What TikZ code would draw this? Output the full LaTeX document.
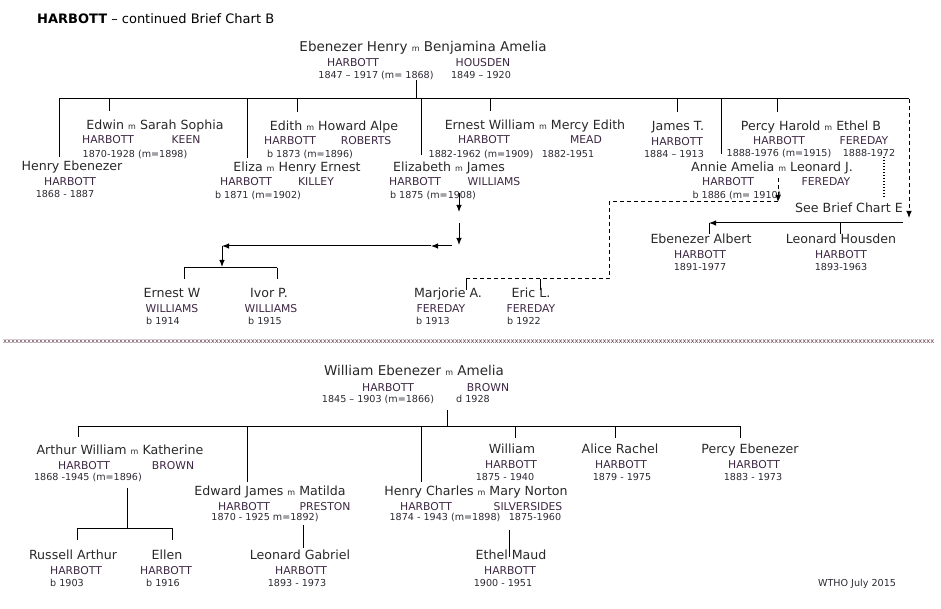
\documentclass[tikz,border=0pt]{standalone}
\usepackage{fontspec}
\setmainfont{DejaVu Sans}
\usetikzlibrary{arrows.meta}
\definecolor{namecol}{RGB}{40,40,40}
\definecolor{surcol}{RGB}{60,38,66}
\definecolor{datecol}{RGB}{45,40,50}
\definecolor{sepcol}{RGB}{95,50,70}
\newcommand{\mm}{{\fontsize{8}{9}\selectfont m}}

\begin{document}
\begin{tikzpicture}[x=1pt, y=-1pt, line join=round, >={Latex[length=7pt,width=5.5pt]},
  nm/.style={anchor=base, yshift=-4.5pt, inner xsep=0pt, inner ysep=4pt, text=namecol, font=\fontsize{12.6}{15}\selectfont},
  couplenm/.style={nm, font=\fontsize{13.5}{16}\selectfont},
  sur/.style={anchor=base, yshift=-4pt, inner sep=0pt, text=surcol, font=\fontsize{10.8}{13}\selectfont},
  yrs/.style={anchor=base, yshift=-3.5pt, inner sep=0pt, text=datecol, font=\fontsize{9.6}{12}\selectfont},
  link/.style={line width=1pt},
  dashlink/.style={link, dash pattern=on 4pt off 3pt},
  dotlink/.style={line width=1.2pt, dash pattern=on 1.2pt off 1.8pt}]
\useasboundingbox (0,0) rectangle (941,609);

\node[anchor=base west, inner sep=0pt, font=\fontsize{13}{15}\selectfont] (title) at (37,24) {\textbf{HARBOTT} – continued Brief Chart B};

% parents
\node[couplenm] (p1) at (423,47) {Ebenezer Henry \mm{} Benjamina Amelia};
\node[sur] (p1-s1) at (353,63) {HARBOTT};
\node[sur] (p1-s2) at (483,63) {HOUSDEN};
\node[couplenm] (p2) at (414,371) {William Ebenezer \mm{} Amelia};
\node[sur] (p2-s1) at (388,387) {HARBOTT};
\node[sur] (p2-s2) at (488,387) {BROWN};

% married children
\foreach \id/\x/\y/\who/\xa/\sa/\xb/\sb in {
  edwin/155/125/{Edwin \mm{} Sarah Sophia}/108/HARBOTT/186/KEEN,
  edith/334/126/{Edith \mm{} Howard Alpe}/290/HARBOTT/366/ROBERTS,
  eliza/297/167/{Eliza \mm{} Henry Ernest}/246/HARBOTT/316/KILLEY,
  elizabeth/449/167/{Elizabeth \mm{} James}/415/HARBOTT/494/WILLIAMS,
  ernest/535/125/{Ernest William \mm{} Mercy Edith}/484/HARBOTT/586/MEAD,
  percy/811/126/{Percy Harold \mm{} Ethel B}/779/HARBOTT/864/FEREDAY,
  annie/772/167/{Annie Amelia \mm{} Leonard J.}/728/HARBOTT/826/FEREDAY,
  arthur/120/450/{Arthur William \mm{} Katherine}/84/HARBOTT/173/BROWN,
  edward/270/491/{Edward James \mm{} Matilda}/244/HARBOTT/325/PRESTON,
  henryc/476/491/{Henry Charles \mm{} Mary Norton}/426/HARBOTT/528/SILVERSIDES} {
  \node[nm] (\id) at (\x,\y) {\who};
  \node[sur] (\id-s1) at (\xa,\y+15) {\sa};
  \node[sur] (\id-s2) at (\xb,\y+15) {\sb};
}

% dates of the couples
\foreach \id/\x/\y/\yr in {
  p1-d1/376/75/{1847 – 1917 (m= 1868)}, p1-d2/481/75/{1849 – 1920},
  edwin-d/135/154/{1870-1928 (m=1898)},
  edith-d/310/154/{b 1873 (m=1896)},
  eliza-d/258/195/{b 1871 (m=1902)},
  elizabeth-d/433/195/{b 1875 (m=1908)},
  ernest-d1/481/154/{1882-1962 (m=1909)}, ernest-d2/568/154/{1882-1951},
  percy-d1/779/153/{1888-1976 (m=1915)}, percy-d2/869/153/{1888-1972},
  annie-d/737/195/{b 1886 (m= 1910)},
  p2-d1/378/399/{1845 – 1903 (m=1866)}, p2-d2/473/399/{d 1928},
  arthur-d/88/477/{1868 -1945 (m=1896)},
  edward-d/265/517/{1870 - 1925 m=1892)},
  henryc-d1/445/517/{1874 - 1943 (m=1898)}, henryc-d2/535/517/{1875-1960}} {
  \node[yrs] (\id) at (\x,\y) {\yr};
}

% single persons
\foreach \id/\xa/\xb/\xc/\y/\who/\fam/\yr in {
  henry/72/70/65/166/Henry Ebenezer/HARBOTT/1868 - 1887,
  james/678/677/674/126/James T./HARBOTT/1884 – 1913,
  ealbert/701/700/700/239/Ebenezer Albert/HARBOTT/1891-1977,
  lhousden/841/841/841/239/Leonard Housden/HARBOTT/1893-1963,
  ernestw/172/172/163/293/Ernest W/WILLIAMS/b 1914,
  ivor/269/271/265/293/Ivor P./WILLIAMS/b 1915,
  marjorie/448/441/433/293/Marjorie A./FEREDAY/b 1913,
  eric/531/531/524/293/Eric L./FEREDAY/b 1922,
  william/512/511/505/449/William/HARBOTT/1875 - 1940,
  alice/620/621/622/449/Alice Rachel/HARBOTT/1879 - 1975,
  percye/750/754/753/449/Percy Ebenezer/HARBOTT/1883 - 1973,
  russell/73/76/67/555/Russell Arthur/HARBOTT/b 1903,
  ellen/167/166/163/555/Ellen/HARBOTT/b 1916,
  leonardg/300/301/297/555/Leonard Gabriel/HARBOTT/1893 - 1973,
  ethel/511/510/503/555/Ethel Maud/HARBOTT/1900 - 1951} {
  \node[nm] (\id) at (\xa,\y) {\who};
  \node[sur] (\id-s) at (\xb,\y+15.5) {\fam};
  \node[yrs] (\id-d) at (\xc,\y+28) {\yr};
}

\node[nm] (seeE) at (849,208) {See Brief Chart E};
\node[yrs] (wtho) at (857,583) {WTHO July 2015};
\node[anchor=west, inner sep=0pt, text=sepcol, font=\fontsize{6.75}{8}\selectfont] (sep) at (3,342) {\foreach \i in {1,...,233}{x}};

% top family
\coordinate (t-m) at (416,99);
\coordinate (t-l) at (59,99);
\coordinate (t-r) at (909,99);
\draw[link] (p1-d1.south -| t-m) -- (t-m);
\draw[link] (t-l) -- (t-r);
\foreach \x/\to/\sh in {59/henry/0, 109/edwin/5, 247/eliza/0, 297/edith/5, 421/elizabeth/3,
    490/ernest/5, 677/james/5, 721/annie/4, 777/percy/5} {
  \coordinate (d-\to) at (\x,99);
  \draw[link, shorten >=\sh pt] (d-\to) -- (d-\to |- \to.north);
}
\coordinate (r-end) at (909,218);
\draw[dashlink, ->] (t-r) -- (r-end);

% Elizabeth to the Williams children
\coordinate (w-a) at (459,212);
\coordinate (w-b) at (459,223);
\coordinate (w-c) at (459,245);
\coordinate (w-d) at (452,246);
\coordinate (w-e) at (431,246);
\coordinate (w-f) at (222,246);
\coordinate (w-g) at (222,267);
\coordinate (w-l) at (184,268);
\coordinate (w-r) at (277,268);
\draw[link, ->, shorten <=2pt] (elizabeth-d.north -| w-a) -- (w-a);
\draw[link, ->] (w-b) -- (w-c);
\draw[link, ->] (w-d) -- (w-e);
\draw[link, ->] (w-e) -- (w-f);
\draw[link, ->] (w-f) -- (w-g);
\draw[link] (w-l) -- (w-r);
\draw[link, shorten >=5pt] (w-l) -- (w-l |- ernestw.north);
\draw[link, shorten >=5pt] (w-r) -- (w-r |- ivor.north);

% Annie to the Fereday children
\coordinate (f-a) at (778,202);
\coordinate (f-b) at (609,202);
\coordinate (f-c) at (609,279);
\coordinate (f-d) at (466,279);
\coordinate (f-e) at (540,279);
\draw[dashlink, ->] (annie.south -| f-a) -- (f-a);
\draw[dashlink] (f-a) -- (f-b) -- (f-c) -- (f-d);
\draw[link, shorten >=-6pt] (f-d) -- (f-d |- marjorie.north);
\draw[link, shorten >=-6pt] (f-e) -- (f-e |- eric.north);

% Percy and Ethel
\coordinate (e-dot) at (884,197);
\draw[dotlink] (percy-d2.south -| e-dot) -- (e-dot |- seeE.north);
\coordinate (h-r) at (903,223);
\coordinate (h-l) at (709,223);
\coordinate (h-m) at (840,223);
\draw[link, ->] (h-r) -- (h-l);
\draw[link, shorten >=-4pt] (h-l) -- (h-l |- ealbert.north);
\draw[link, shorten >=-4pt] (h-m) -- (h-m |- lhousden.north);

% bottom family
\coordinate (b-m) at (447,426);
\coordinate (b-l) at (78,426);
\coordinate (b-r) at (740,426);
\draw[link, shorten <=6pt] (p2-d1.south -| b-m) -- (b-m);
\draw[link] (b-l) -- (b-r);
\foreach \x/\to/\sh in {78/arthur/4, 247/edward/0, 421/henryc/0, 515/william/2, 615/alice/2, 740/percye/2} {
  \coordinate (d-\to) at (\x,426);
  \draw[link, shorten >=\sh pt] (d-\to) -- (d-\to |- \to.north);
}

% Arthur's children
\coordinate (a-m) at (127,528);
\coordinate (a-l) at (77,528);
\coordinate (a-r) at (172,528);
\draw[link, shorten <=6pt] (arthur-d.south -| a-m) -- (a-m);
\draw[link] (a-l) -- (a-r);
\draw[link, shorten >=6pt] (a-l) -- (a-l |- russell.north);
\draw[link, shorten >=6pt] (a-r) -- (a-r |- ellen.north);

% Edward and Henry Charles
\coordinate (g-x) at (303,548);
\draw[link, shorten <=3pt, shorten >=-2pt] (edward-d.south -| g-x) -- (g-x |- leonardg.north);
\coordinate (m-x) at (509,557);
\draw[link, shorten <=9pt, shorten >=-11pt] (henryc-d2.south -| m-x) -- (m-x |- ethel.north);
\end{tikzpicture}
\end{document}
